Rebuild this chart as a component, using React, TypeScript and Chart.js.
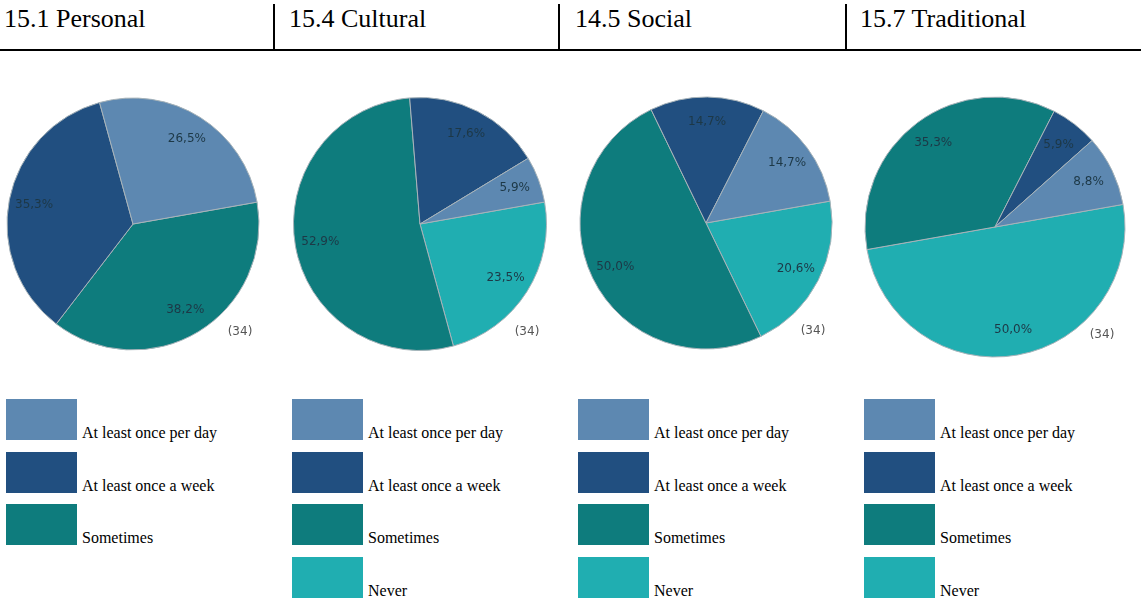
import React, { useEffect, useRef } from "react";
import { Chart, registerables } from "chart.js";

Chart.register(...registerables);

const categories = ["At least once per day", "At least once a week", "Sometimes", "Never"];
const titles = ["15.1 Personal", "15.4 Cultural", "14.5 Social", "15.7 Traditional"];
const personal = [26.5, 35.3, 38.2, 0];
const cultural = [5.9, 17.6, 52.9, 23.5];
const social = [14.7, 14.7, 50.0, 20.6];
const traditional = [8.8, 5.9, 35.3, 50.0];
const respondents = [34, 34, 34, 34];
const seriesList = [personal, cultural, social, traditional];

const COLORS = ["#5d88b1", "#214f80", "#0e7c7d", "#20aeb1"];

// layout (pixels)
const centers = [
  { x: 133, y: 224, r: 126 },
  { x: 419.5, y: 223.5, r: 126.5 },
  { x: 706, y: 223, r: 126 },
  { x: 994.5, y: 227, r: 130 },
];
const separators = [274, 559, 846];
const titleX = [4, 289, 575, 860];
const legendX = [6, 292, 578, 864];
const legendRowTop = [399, 452, 504, 557];
const CANVAS = 266;

const labelPlugin = {
  id: "sliceLabels",
  afterDatasetsDraw(chart: any) {
    const ctx = chart.ctx;
    const meta = chart.getDatasetMeta(0);
    const data = chart.data.datasets[0].data as number[];
    ctx.save();
    ctx.font = "12px 'DejaVu Sans'";
    ctx.textAlign = "center";
    ctx.textBaseline = "middle";
    let cx = 0;
    let cy = 0;
    meta.data.forEach((arc: any, i: number) => {
      const p = arc.getProps(["x", "y", "startAngle", "endAngle", "outerRadius"], true);
      cx = p.x;
      cy = p.y;
      if (!data[i]) return;
      const mid = (p.startAngle + p.endAngle) / 2;
      const r = p.outerRadius * 0.8;
      ctx.fillStyle = "#1d3846";
      ctx.fillText(data[i].toFixed(1).replace(".", ",") + "%", p.x + Math.cos(mid) * r, p.y + Math.sin(mid) * r);
    });
    const n = chart.options.plugins.sliceLabels?.n;
    ctx.fillStyle = "#555";
    ctx.fillText("(" + n + ")", cx + 107, cy + 108);
    ctx.restore();
  },
};

function PieCanvas({ idx }: { idx: number }) {
  const ref = useRef<HTMLCanvasElement>(null);
  useEffect(() => {
    const values = seriesList[idx];
    // drawn clockwise in reverse category order
    const order = [3, 2, 1, 0];
    const chart = new Chart(ref.current as HTMLCanvasElement, {
      type: "pie",
      data: {
        labels: order.map((i) => categories[i]),
        datasets: [
          {
            data: order.map((i) => values[i]),
            backgroundColor: order.map((i) => COLORS[i]),
            borderColor: "#a7b3b9",
            borderWidth: 1,
          },
        ],
      },
      options: {
        responsive: false,
        animation: false,
        rotation: 80,
        radius: centers[idx].r,
        layout: { padding: 0 },
        plugins: {
          legend: { display: false },
          tooltip: { enabled: false },
          sliceLabels: { n: respondents[idx] },
        } as any,
      },
      plugins: [labelPlugin],
    });
    return () => chart.destroy();
  }, [idx]);
  const c = centers[idx];
  return (
    <canvas
      ref={ref}
      width={CANVAS}
      height={CANVAS}
      style={{
        position: "absolute",
        left: c.x - CANVAS / 2,
        top: c.y - CANVAS / 2,
        width: CANVAS,
        height: CANVAS,
      }}
    />
  );
}

export default function App() {
  return (
    <div
      style={{
        position: "absolute",
        left: 0,
        top: 0,
        width: 1141,
        height: 600,
        background: "#fff",
        overflow: "hidden",
        fontFamily: "'Liberation Serif', 'Times New Roman', serif",
        color: "#000",
      }}
    >
      {titles.map((t, i) => (
        <div
          key={t}
          style={{
            position: "absolute",
            left: titleX[i],
            top: 6,
            fontSize: 26,
            lineHeight: "26px",
            whiteSpace: "nowrap",
          }}
        >
          {t}
        </div>
      ))}
      {separators.map((x) => (
        <div key={x} style={{ position: "absolute", left: x - 1, top: 4, width: 2, height: 46, background: "#000" }} />
      ))}
      <div style={{ position: "absolute", left: 0, top: 49, width: 1141, height: 2, background: "#000" }} />
      {titles.map((t, i) => (
        <PieCanvas key={"p" + i} idx={i} />
      ))}
      {titles.map((t, i) =>
        categories.map((cat, k) =>
          seriesList[i][k] > 0 ? (
            <div
              key={t + cat}
              style={{
                position: "absolute",
                left: legendX[i],
                top: legendRowTop[k],
                fontSize: 16,
                whiteSpace: "nowrap",
              }}
            >
              <span
                style={{
                  display: "inline-block",
                  width: 71,
                  height: 41,
                  background: COLORS[k],
                  verticalAlign: -2,
                }}
              />
              <span style={{ marginLeft: 5 }}>{cat}</span>
            </div>
          ) : null
        )
      )}
    </div>
  );
}
